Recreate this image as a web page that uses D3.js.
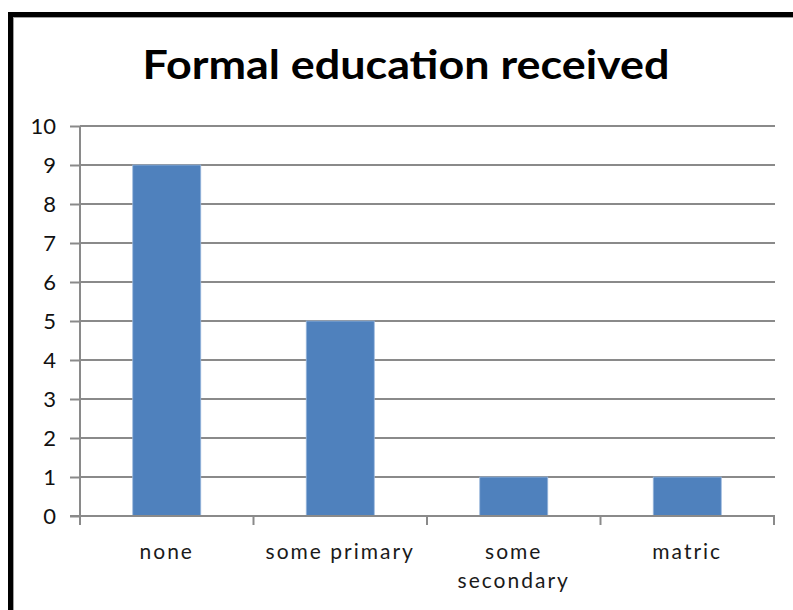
<!DOCTYPE html>
<html>
<head>
<meta charset="utf-8">
<script src="https://cdn.jsdelivr.net/npm/d3@7/dist/d3.min.js"></script>
<style>
  html, body { margin: 0; padding: 0; background: #fff; }
  svg { display: block; }
</style>
</head>
<body>
<svg id="chart" width="793" height="610"></svg>
<script>
const title = "Formal education received";
const categories = [["none"], ["some primary"], ["some", "secondary"], ["matric"]];
const values = [9, 5, 1, 1];
const yTicks = [0, 1, 2, 3, 4, 5, 6, 7, 8, 9, 10];

const svg = d3.select("#chart");
const W = 793, H = 610;
const plot = { left: 80, right: 774, top: 126, bottom: 516 };

// frame
svg.append("rect").attr("x", 0).attr("y", 0).attr("width", W).attr("height", H).attr("fill", "#fff");
svg.append("line").attr("x1", 8).attr("x2", W).attr("y1", 14.5).attr("y2", 14.5)
  .attr("stroke", "#000").attr("stroke-width", 5);
svg.append("line").attr("x1", 10.5).attr("x2", 10.5).attr("y1", 12).attr("y2", H)
  .attr("stroke", "#000").attr("stroke-width", 5);
svg.append("line").attr("x1", 13).attr("x2", W).attr("y1", 17.5).attr("y2", 17.5)
  .attr("stroke", "#a0a0a0").attr("stroke-width", 1);
svg.append("line").attr("x1", 13.5).attr("x2", 13.5).attr("y1", 17).attr("y2", H)
  .attr("stroke", "#a0a0a0").attr("stroke-width", 1);

// title
svg.append("text")
  .attr("x", 406).attr("y", 79)
  .attr("text-anchor", "middle")
  .attr("font-family", "Lato, 'Open Sans', sans-serif")
  .attr("font-weight", "bold")
  .attr("font-size", 40)
  .attr("fill", "#000")
  .attr("textLength", 527)
  .attr("lengthAdjust", "spacingAndGlyphs")
  .text(title);

const x = d3.scaleBand()
  .domain(categories.map((d, i) => i))
  .range([plot.left, plot.right])
  .paddingInner(0.608)
  .paddingOuter(0.304);

const y = d3.scaleLinear().domain([0, 10]).range([plot.bottom, plot.top]);

// gridlines
svg.append("g").selectAll("line").data(yTicks.filter(t => t > 0)).join("line")
  .attr("x1", plot.left).attr("x2", plot.right + 1)
  .attr("y1", d => y(d)).attr("y2", d => y(d))
  .attr("stroke", "#8a8a8a").attr("stroke-width", 2);

// bars
svg.append("g").selectAll("rect").data(values).join("rect")
  .attr("x", (d, i) => x(i))
  .attr("y", d => y(d))
  .attr("width", x.bandwidth())
  .attr("height", d => y(0) - y(d))
  .attr("fill", "#4f81bd")
  .attr("stroke", "#9bb8dd").attr("stroke-width", 0.8);

// y axis
const yAxis = d3.axisLeft(y).tickValues(yTicks).tickSize(10).tickPadding(14).tickFormat(d3.format("d"));
const gy = svg.append("g").attr("transform", `translate(${plot.left},0)`).call(yAxis);
gy.select(".domain").remove();
gy.selectAll(".tick line").attr("stroke", "#8a8a8a").attr("stroke-width", 2);
gy.selectAll(".tick text")
  .attr("font-family", "Lato, 'Open Sans', sans-serif")
  .attr("font-size", 22).attr("fill", "#111")
  .attr("dy", "0.36em");
svg.append("line").attr("x1", plot.left).attr("x2", plot.left)
  .attr("y1", plot.top).attr("y2", plot.bottom + 9)
  .attr("stroke", "#8a8a8a").attr("stroke-width", 2);

// x axis
svg.append("line").attr("x1", plot.left - 10).attr("x2", plot.right + 1)
  .attr("y1", plot.bottom).attr("y2", plot.bottom)
  .attr("stroke", "#8a8a8a").attr("stroke-width", 2);
const boundaries = categories.map((d, i) => x(i) - x.step() * x.paddingOuter()).concat([plot.right]);
svg.append("g").selectAll("line").data(boundaries.slice(1)).join("line")
  .attr("x1", d => d).attr("x2", d => d)
  .attr("y1", plot.bottom).attr("y2", plot.bottom + 9)
  .attr("stroke", "#8a8a8a").attr("stroke-width", 2);

// category labels
const lab = svg.append("g").selectAll("text").data(categories).join("text")
  .attr("x", (d, i) => x(i) + x.bandwidth() / 2)
  .attr("y", 559)
  .attr("text-anchor", "middle")
  .attr("font-family", "Lato, 'Open Sans', sans-serif")
  .attr("font-size", 21).attr("fill", "#1a1a1a")
  .attr("letter-spacing", 2);
lab.selectAll("tspan").data(d => d).join("tspan")
  .attr("x", function () { return d3.select(this.parentNode).attr("x"); })
  .attr("dy", (d, i) => i === 0 ? 0 : 29)
  .text(d => d);
</script>
</body>
</html>
